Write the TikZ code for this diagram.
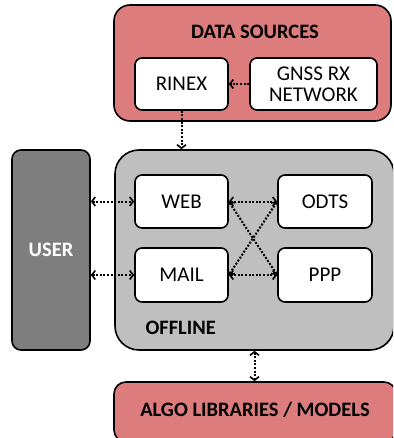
\documentclass[tikz,border=0pt]{standalone}
\usepackage{fontspec}
\setmainfont{Carlito}
\usetikzlibrary{arrows.meta}
\definecolor{srcred}{RGB}{220,124,124}
\definecolor{offgray}{RGB}{191,191,191}
\definecolor{usergray}{RGB}{126,126,126}
\tikzset{
  panel/.style={draw=black, line width=1.6pt, rounded corners=14pt, minimum width=#1},
  whitebox/.style={draw=black, line width=1.6pt, fill=white, rounded corners=7pt,
    align=center, font=\fontsize{21}{23}\selectfont, inner sep=0pt},
  title/.style={font=\fontsize{20.5}{23}\selectfont\bfseries},
  tip/.style={Straight Barb[length=3.5pt,width=9pt,line width=1.6pt]},
  link/.style={line width=2pt, dash pattern=on 2pt off 1.6pt, {Straight Barb[length=3.5pt,width=9pt,line width=1.6pt]}-{Straight Barb[length=3.5pt,width=9pt,line width=1.6pt]}},
  onelink/.style={line width=2pt, dash pattern=on 2pt off 1.6pt, -{Straight Barb[length=3.5pt,width=9pt,line width=1.6pt]}},
}
\begin{document}
\begin{tikzpicture}[x=1pt,y=-1pt]
\useasboundingbox (0,0) rectangle (393,438);
\clip (0,0) rectangle (393,438);

% data sources panel
\node[panel=277pt, minimum height=116pt, fill=srcred, rounded corners=16pt] (ds) at (252.5,63) {};
\node[title] (dstitle) at (255,32) {DATA SOURCES};
\node[whitebox, minimum width=93pt, minimum height=52pt] (rinex) at (181.5,84) {RINEX};
\node[whitebox, minimum width=127pt, minimum height=52pt, font=\fontsize{21}{21}\selectfont] (gnss) at (313.5,84) {GNSS RX\\NETWORK};

% user column
\node[panel=78pt, minimum height=200pt, fill=usergray, rounded corners=9pt] (user) at (51,250) {};
\node[title, text=white] (usertitle) at (51,250) {USER};

% offline panel
\node[panel=279pt, minimum height=200pt, fill=offgray, rounded corners=24pt] (off) at (254.5,250) {};
\node[title, anchor=west] (offtitle) at (142,328) {OFFLINE};
\node[whitebox, minimum width=93pt, minimum height=53pt] (web) at (181.5,201.5) {WEB};
\node[whitebox, minimum width=94pt, minimum height=53pt] (odts) at (325,201.5) {ODTS};
\node[whitebox, minimum width=93pt, minimum height=54pt] (mail) at (181.5,275) {MAIL};
\node[whitebox, minimum width=94pt, minimum height=54pt] (ppp) at (325,275) {PPP};

% algorithm libraries panel
\node[panel=282pt, minimum height=60pt, fill=srcred, rounded corners=12pt] (algo) at (255,412) {};
\node[title] (algotitle) at (255,410) {ALGO LIBRARIES / MODELS};

% connectors
\draw[onelink] (gnss.west) -- (rinex.east);
\draw[onelink] (rinex.south) -- (rinex.south |- off.north);
\draw[link] (user.east |- web.west) -- (web.west);
\draw[link] (user.east |- mail.west) -- (mail.west);
\draw[link] (web.east) -- (odts.west);
\draw[link] (mail.east) -- (ppp.west);
\draw[link] (web.east) -- (ppp.west);
\draw[link] (mail.east) -- (odts.west);
\draw[link] (off.south) -- (off.south |- algo.north);
\end{tikzpicture}
\end{document}
